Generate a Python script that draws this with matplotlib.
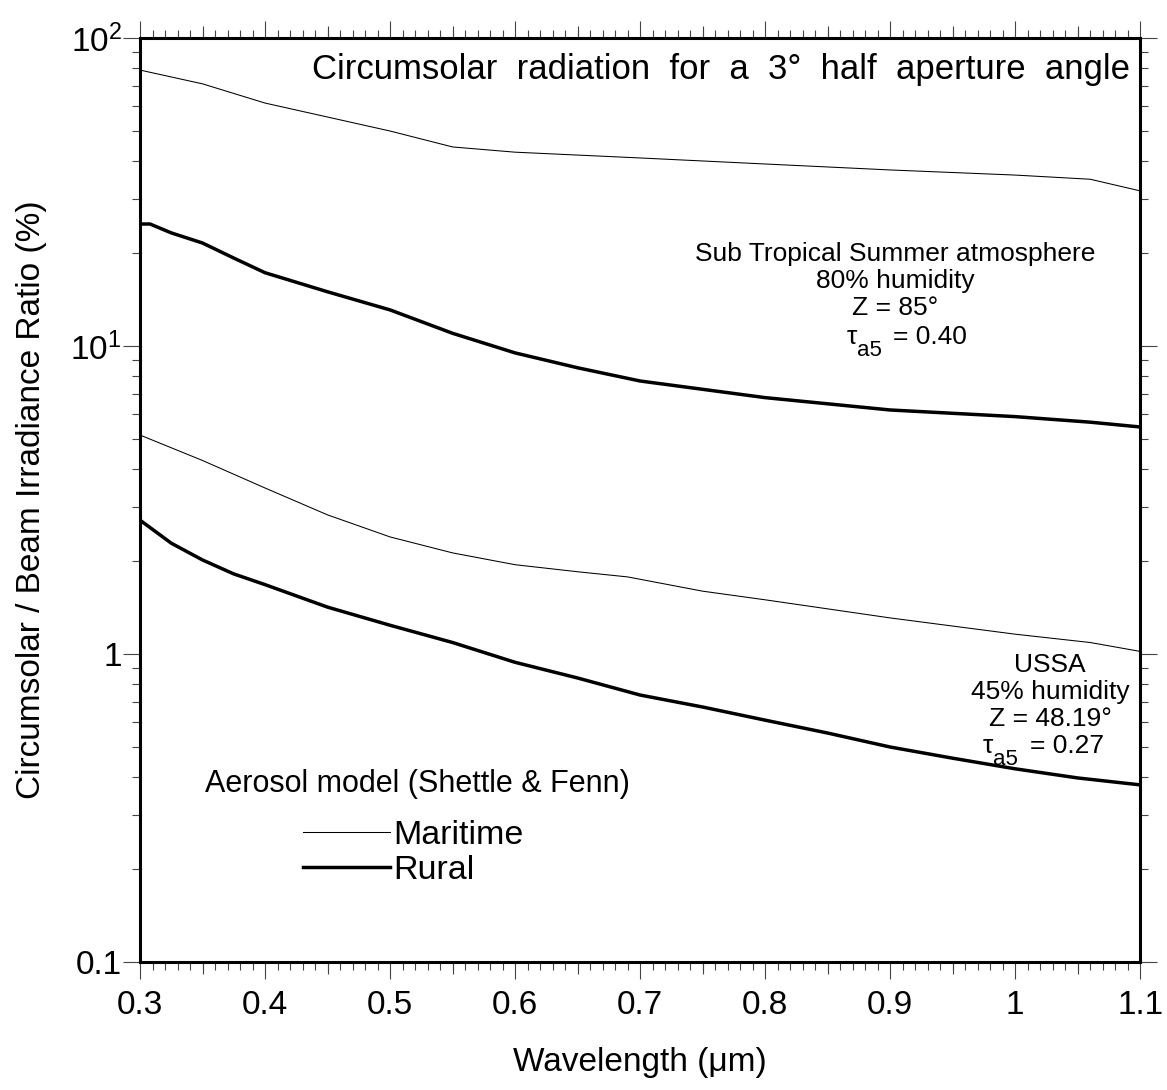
import matplotlib
import matplotlib.pyplot as plt
from matplotlib.ticker import FixedLocator, LogLocator, MultipleLocator, NullFormatter

matplotlib.use('Agg')
plt.rcParams['font.family'] = ['Liberation Sans', 'DejaVu Sans']
plt.rcParams['mathtext.fontset'] = 'custom'
plt.rcParams['mathtext.rm'] = 'Liberation Sans'
plt.rcParams['mathtext.it'] = 'Liberation Sans'

# Sub Tropical Summer, 80% humidity, Z = 85 deg
sts_mar_wl = [0.30, 0.35, 0.40, 0.45, 0.50, 0.55, 0.60, 0.70, 0.80, 0.90, 1.00, 1.06, 1.10]
sts_mar = [78.7, 71.0, 61.5, 55.4, 49.9, 44.3, 42.6, 40.8, 39.0, 37.3, 35.9, 34.8, 31.9]
sts_rur_wl = [0.30, 0.308, 0.325, 0.35, 0.375, 0.40, 0.45, 0.50, 0.55, 0.60, 0.65, 0.70,
              0.80, 0.90, 1.00, 1.06, 1.10]
sts_rur = [24.9, 24.9, 23.3, 21.6, 19.3, 17.3, 15.0, 13.1, 11.0, 9.5, 8.5, 7.7,
           6.8, 6.2, 5.9, 5.66, 5.46]

# USSA, 45% humidity, Z = 48.19 deg
us_mar_wl = [0.30, 0.35, 0.40, 0.45, 0.50, 0.55, 0.60, 0.65, 0.69, 0.75, 0.80, 0.90, 1.00, 1.06, 1.10]
us_mar = [5.14, 4.25, 3.46, 2.83, 2.40, 2.13, 1.95, 1.85, 1.78, 1.60, 1.50, 1.31, 1.16, 1.09, 1.02]
us_rur_wl = [0.30, 0.325, 0.35, 0.375, 0.40, 0.45, 0.50, 0.55, 0.60, 0.65, 0.70, 0.75, 0.80,
             0.85, 0.90, 0.95, 1.00, 1.05, 1.10]
us_rur = [2.72, 2.29, 2.02, 1.82, 1.68, 1.42, 1.24, 1.09, 0.94, 0.836, 0.736, 0.673, 0.61,
          0.554, 0.499, 0.459, 0.424, 0.396, 0.376]

xticks = [0.3, 0.4, 0.5, 0.6, 0.7, 0.8, 0.9, 1.0, 1.1]
xtick_labels = ['0.3', '0.4', '0.5', '0.6', '0.7', '0.8', '0.9', '1', '1.1']
yticks = [0.1, 1, 10, 100]
ytick_labels = ['0.1', '1', '$10^1$', '$10^2$']

fig = plt.figure(figsize=(11.67, 10.9), dpi=100)
ax = fig.add_axes([0.120, 0.1174, 0.857, 0.8477])

thin, thick = 0.75, 2.5
ax.plot(sts_mar_wl, sts_mar, color='black', lw=thin)
ax.plot(sts_rur_wl, sts_rur, color='black', lw=thick)
ax.plot(us_mar_wl, us_mar, color='black', lw=thin, label='Maritime')
ax.plot(us_rur_wl, us_rur, color='black', lw=thick, label='Rural')

ax.set_yscale('log')
ax.set_xlim(0.3, 1.1)
ax.set_ylim(0.1, 100)

for s in ax.spines.values():
    s.set_linewidth(2.2)

ax.xaxis.set_major_locator(FixedLocator(xticks))
ax.set_xticklabels(xtick_labels)
ax.xaxis.set_minor_locator(MultipleLocator(0.01))
ax.yaxis.set_major_locator(FixedLocator(yticks))
ax.set_yticklabels(ytick_labels)
ax.yaxis.set_minor_locator(LogLocator(base=10, subs=range(2, 10)))
ax.yaxis.set_minor_formatter(NullFormatter())

# tick lengths are in points (17 px major, 8 px minor)
ax.tick_params(which='both', direction='out', top=True, right=True,
               color='#444444', width=0.8, labelsize=24)
ax.tick_params(which='major', length=12.2)
ax.tick_params(which='minor', length=5.8)
ax.tick_params(axis='x', which='major', pad=8)
ax.tick_params(axis='y', which='major', pad=1)

# medium ticks every 0.05 on bottom and top
mid = [0.35 + 0.1 * i for i in range(8)]
for side in ('bottom', 'top'):
    sec = ax.secondary_xaxis(side)
    sec.set_xticks(mid)
    sec.tick_params(direction='out', length=8.6, color='#444444', width=0.8,
                    labelbottom=False, labeltop=False)
    for s in sec.spines.values():
        s.set_visible(False)

ax.set_xlabel('Wavelength (μm)', fontsize=24, labelpad=19)
ax.set_ylabel('Circumsolar / Beam Irradiance Ratio (%)', fontsize=24, labelpad=17)

ax.text(0.99, 0.966, 'Circumsolar  radiation  for  a  3°  half  aperture  angle',
        transform=ax.transAxes, ha='right', va='center', fontsize=25)


def px(x, y):
    # figure pixel (from top-left) -> axes fraction
    return (x - 140) / 1000, (962 - y) / 924


sts_lines = ['Sub Tropical Summer atmosphere', '80% humidity', 'Z = 85°']
us_lines = ['USSA', '45% humidity', 'Z = 48.19°']
for i, t in enumerate(sts_lines):
    ax.text(*px(895, 254 + 27 * i), t, transform=ax.transAxes,
            ha='center', va='center', fontsize=19)
for i, t in enumerate(us_lines):
    ax.text(*px(1050, 665 + 27 * i), t, transform=ax.transAxes,
            ha='center', va='center', fontsize=19)

# tau_a5 lines: symbol, subscript, value
for x_tau, x_val, base, val in [(857, 893, 344, '= 0.40'), (993, 1030, 753, '= 0.27')]:
    ax.text(*px(x_tau, base), 'τ', transform=ax.transAxes,
            ha='right', va='baseline', fontsize=19)
    ax.text(*px(x_tau, base + 12), 'a5', transform=ax.transAxes,
            ha='left', va='baseline', fontsize=16)
    ax.text(*px(x_val, base), val, transform=ax.transAxes,
            ha='left', va='baseline', fontsize=19)

ax.text(0.065, 0.193, 'Aerosol model (Shettle & Fenn)', transform=ax.transAxes,
        ha='left', va='center', fontsize=22)
ax.legend(loc='upper left', bbox_to_anchor=(0.163, 0.154), frameon=False,
          fontsize=24.5, handlelength=2.55, handletextpad=0.1, labelspacing=0.12,
          borderpad=0, borderaxespad=0)

fig.savefig('out.png', dpi=100)
